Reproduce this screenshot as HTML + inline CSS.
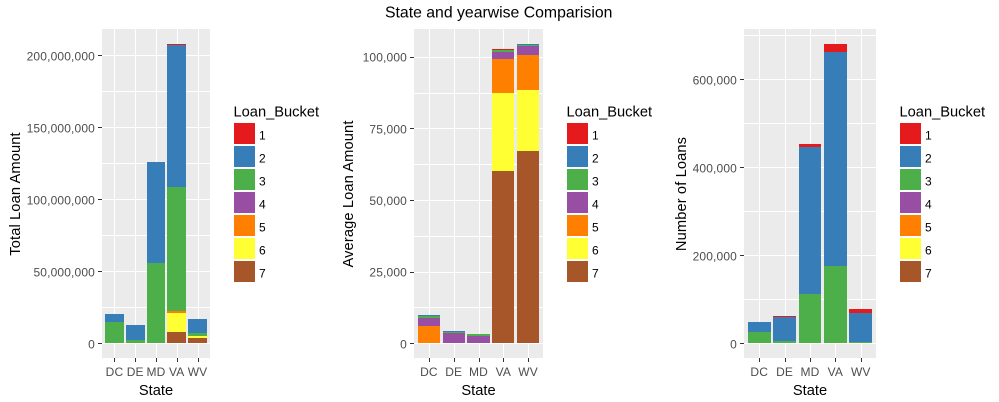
<!DOCTYPE html>
<html lang="en">
<head>
<meta charset="utf-8">
<title>State and yearwise Comparision</title>
<style>
html,body{margin:0;padding:0;background:#fff;width:999px;height:402px;overflow:hidden}
svg{display:block;font-family:"Liberation Sans",Arial,sans-serif}
.crisp{shape-rendering:crispEdges}
.axis-title{font-size:14.67px;fill:#000}
.y-title{letter-spacing:.12px}
.plot-title{font-size:15.8px;fill:#000}
.tick-label{font-size:12px;letter-spacing:.15px;fill:#4d4d4d}
.legend-label{font-size:12px;fill:#000}
</style>
</head>
<body>
<svg id="figure" width="999" height="402" viewBox="0 0 999 402" xmlns="http://www.w3.org/2000/svg">
  <text x="498.7" y="17.5" text-anchor="middle" class="plot-title">State and yearwise Comparision</text>
  <g id="panel-total"></g>
  <g id="panel-average"></g>
  <g id="panel-count"></g>
  <text class="axis-title y-title" text-anchor="middle" transform="translate(20,194) rotate(-90)">Total Loan Amount</text>
  <text class="axis-title y-title" text-anchor="middle" transform="translate(353,194) rotate(-90)">Average Loan Amount</text>
  <text class="axis-title y-title" text-anchor="middle" transform="translate(686,194) rotate(-90)">Number of Loans</text>
  <text class="axis-title" text-anchor="middle" x="156" y="395">State</text>
  <text class="axis-title" text-anchor="middle" x="478.5" y="395">State</text>
  <text class="axis-title" text-anchor="middle" x="810" y="395">State</text>
  <text class="axis-title" x="233.5" y="116.7">Loan_Bucket</text>
  <text class="axis-title" x="566.5" y="116.7">Loan_Bucket</text>
  <text class="axis-title" x="899.5" y="116.7">Loan_Bucket</text>
</svg>
<script>
const states = ["DC", "DE", "MD", "VA", "WV"];
const buckets = ["1", "2", "3", "4", "5", "6", "7"];
const bucketColors = ["#E41A1C", "#377EB8", "#4DAF4A", "#984EA3", "#FF7F00", "#FFFF33", "#A65628"];

// Each row is one loan bucket (1 to 7); each column is one state.
const totalLoanAmount = [
  [0, 0, 0, 700000, 0],
  [5550000, 10400000, 70100000, 98600000, 9700000],
  [14800000, 2300000, 55800000, 86100000, 2100000],
  [0, 0, 0, 0, 0],
  [0, 0, 0, 1400000, 0],
  [0, 0, 0, 13200000, 1400000],
  [0, 0, 0, 7850000, 3700000]
];
const averageLoanAmount = [
  [0, 0, 0, 350, 0],
  [350, 400, 0, 0, 350],
  [700, 350, 700, 700, 350],
  [2800, 3490, 2550, 2440, 3140],
  [6040, 0, 0, 11860, 12200],
  [0, 0, 0, 27200, 21280],
  [0, 0, 0, 60100, 67100]
];
const numberOfLoans = [
  [0, 2300, 6800, 18200, 9100],
  [22700, 54500, 334000, 486400, 65900],
  [25700, 5200, 112000, 175700, 3000],
  [0, 0, 0, 0, 0],
  [0, 0, 0, 0, 0],
  [0, 0, 0, 0, 0],
  [0, 0, 0, 0, 0]
];

const totalTicks = [0, 50000000, 100000000, 150000000, 200000000];
const totalMinorTicks = [25000000, 75000000, 125000000, 175000000];
const averageTicks = [0, 25000, 50000, 75000, 100000];
const averageMinorTicks = [12500, 37500, 62500, 87500];
const countTicks = [0, 200000, 400000, 600000];
const countMinorTicks = [100000, 300000, 500000, 700000];

const totalDomain = [-10200000, 218270000];
const averageDomain = [-5130, 109670];
const countDomain = [-33400, 714320];

const SVG_NS = "http://www.w3.org/2000/svg";
const panelTop = 29;
const panelBottom = 358;

function shape(parent, tag, attrs, text) {
  const el = document.createElementNS(SVG_NS, tag);
  for (const key in attrs) el.setAttribute(key, attrs[key]);
  if (text !== undefined) el.textContent = text;
  parent.appendChild(el);
  return el;
}

function drawPanel(root, layout, values, majorTicks, minorTicks, domain) {
  const width = layout.right - layout.left;
  const unit = width / (states.length + 0.2);
  const xScale = function (i) { return layout.left + (i + 0.6) * unit; };
  const yScale = function (v) {
    return panelBottom - (v - domain[0]) / (domain[1] - domain[0]) * (panelBottom - panelTop);
  };

  const bg = shape(root, "rect", { x: layout.left, y: panelTop, width: width, height: panelBottom - panelTop, fill: "#EBEBEB", class: "crisp" });
  
  

  minorTicks.concat(majorTicks).forEach(function (v) {
    const y = Math.round(yScale(v)) + 0.5;
    const line = shape(root, "line", { x1: layout.left, x2: layout.right, y1: y, y2: y, stroke: "#fff", "stroke-width": 1, class: "crisp" });
    
    
  });

  states.forEach(function (state, i) {
    const x = Math.round(xScale(i)) + 0.5;
    const grid = shape(root, "line", { x1: x, x2: x, y1: panelTop, y2: panelBottom, stroke: "#fff", "stroke-width": 1, class: "crisp" });
    
    
    const tick = shape(root, "line", { x1: x, x2: x, y1: panelBottom, y2: panelBottom + 4, stroke: "#333", "stroke-width": 1, class: "crisp" });
    
    
    const label = shape(root, "text", { x: xScale(i), y: 376, "text-anchor": "middle", class: "tick-label" }, state);
    
    
  });

  majorTicks.forEach(function (v) {
    const y = Math.round(yScale(v)) + 0.5;
    const tick = shape(root, "line", { x1: layout.left - 4, x2: layout.left, y1: y, y2: y, stroke: "#333", "stroke-width": 1, class: "crisp" });
    
    
    const label = shape(root, "text", { x: layout.left - 7, y: yScale(v) + 5, "text-anchor": "end", class: "tick-label" }, v.toLocaleString("en-US"));
    
    
  });

  states.forEach(function (state, i) {
    const x0 = Math.round(xScale(i) - 0.45 * unit);
    const x1 = Math.round(xScale(i) + 0.45 * unit);
    let cumulative = 0;
    for (let b = buckets.length - 1; b >= 0; b--) {
      const v = values[b][i];
      if (!v) continue;
      const bottom = Math.round(yScale(cumulative));
      cumulative += v;
      const top = Math.round(yScale(cumulative));
      const bar = shape(root, "rect", { x: x0, y: top, width: x1 - x0, height: Math.max(bottom - top, 0), fill: bucketColors[b], class: "crisp" });
      
      
      bar.setAttribute('data-state', state);
      bar.setAttribute('data-bucket', buckets[b]);
    }
  });

  buckets.forEach(function (bucket, b) {
    const key = shape(root, "rect", { x: layout.legendX, y: 123 + b * 23, width: 21, height: 21, fill: bucketColors[b], class: "crisp" });
    
    
    const label = shape(root, "text", { x: layout.legendX + 25, y: 123 + b * 23 + 16.7, class: "legend-label" }, bucket);
    
    
  });
}

drawPanel(document.getElementById("panel-total"), { left: 102, right: 210, legendX: 234 }, totalLoanAmount, totalTicks, totalMinorTicks, totalDomain);
drawPanel(document.getElementById("panel-average"), { left: 414, right: 543, legendX: 567 }, averageLoanAmount, averageTicks, averageMinorTicks, averageDomain);
drawPanel(document.getElementById("panel-count"), { left: 744, right: 876, legendX: 900 }, numberOfLoans, countTicks, countMinorTicks, countDomain);
</script>
</body>
</html>
